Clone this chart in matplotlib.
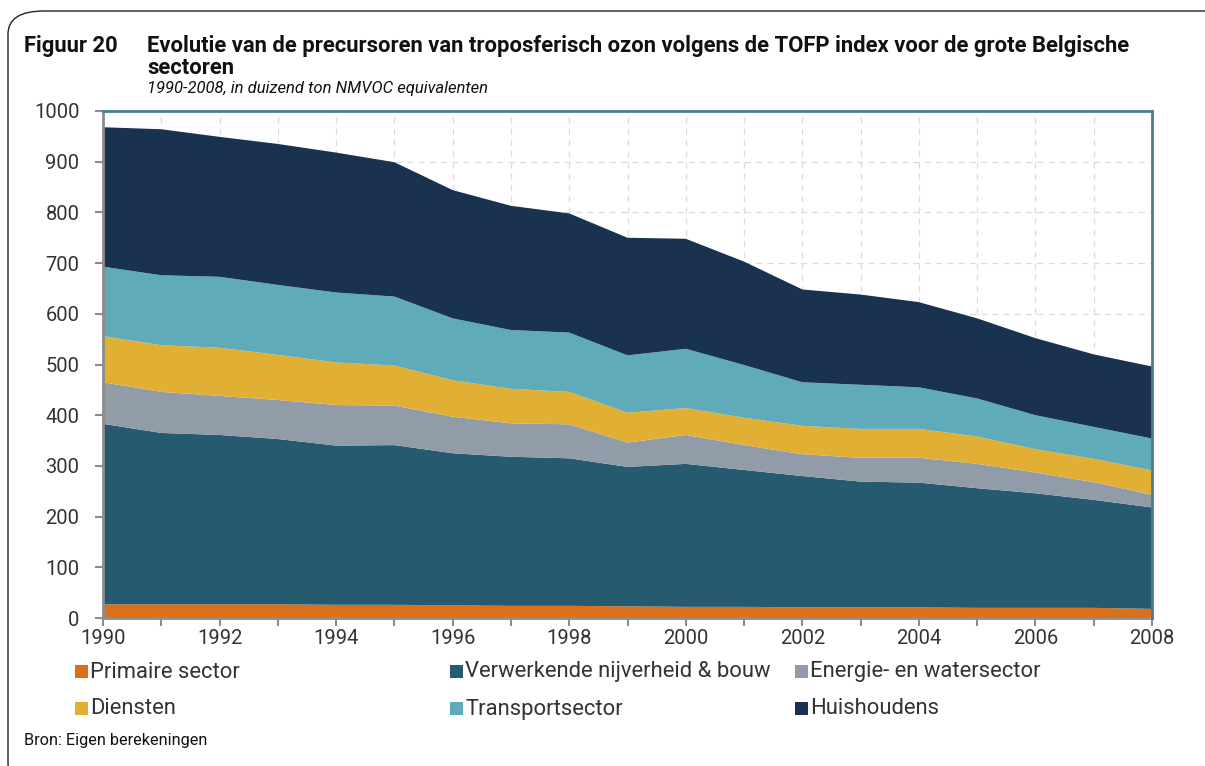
import numpy as np
import matplotlib
matplotlib.use("Agg")
import matplotlib.pyplot as plt
from matplotlib.patches import FancyBboxPatch, Rectangle

# TOFP per sector, 1990-2008 (kton NMVOC eq.)
years = list(range(1990, 2009))
primaire = [27, 27, 27, 27, 26, 26, 25, 24, 24, 23, 22, 22, 21, 21, 21, 20, 20, 20, 18]
verwerkende = [356, 338, 334, 326, 314, 315, 300, 294, 291, 275, 282, 270, 259, 248, 246, 236, 226, 213, 200]
energie = [82, 81, 77, 77, 80, 78, 72, 66, 67, 48, 57, 49, 43, 47, 49, 48, 41, 35, 25]
diensten = [91, 92, 95, 89, 84, 79, 72, 68, 64, 59, 53, 54, 56, 57, 57, 54, 46, 46, 48]
transport = [137, 138, 140, 138, 138, 136, 122, 116, 117, 113, 117, 104, 86, 87, 82, 75, 67, 63, 63]
huishoudens = [275, 288, 276, 278, 276, 265, 253, 245, 235, 232, 217, 204, 183, 178, 168, 158, 152, 143, 142]

labels = ["Primaire sector", "Verwerkende nijverheid & bouw", "Energie- en watersector",
          "Diensten", "Transportsector", "Huishoudens"]
colors = ["#d9711c", "#265a6e", "#929ca8", "#e1af33", "#5fabb9", "#19324f"]

plt.rcParams['font.family'] = ['Roboto', 'DejaVu Sans']

fig = plt.figure(figsize=(12.05, 7.66), dpi=100)
W, H = 1205, 766

# rounded frame, cut off on the right and bottom
frame = FancyBboxPatch((8 / W, -20 / H), 1.2, (766 - 11 + 20) / H,
                       boxstyle="round,pad=0,rounding_size=0.03",
                       transform=fig.transFigure, fill=False,
                       edgecolor="#222222", linewidth=1.0)
fig.patches.append(frame)

ax = fig.add_axes([103 / W, (766 - 618) / H, (1152 - 103) / W, (618 - 111) / H])
ax.stackplot(years, primaire, verwerkende, energie, diensten, transport, huishoudens,
             colors=colors, linewidth=0)

ax.set_xlim(1990, 2008)
ax.set_ylim(0, 1000)
ax.set_yticks(range(0, 1001, 100))
ax.set_xticks(range(1990, 2009, 2))
ax.set_xticks(range(1990, 2009, 1), minor=True)
ax.grid(True, which='both', color="#dcdcdc", linestyle=(0, (5, 4)), linewidth=0.9)
ax.set_axisbelow(True)

for s in ['left', 'bottom']:
    ax.spines[s].set_color("#8c8c8c")
    ax.spines[s].set_linewidth(2)
for s in ['top', 'right']:
    ax.spines[s].set_color("#4a7d93")
    ax.spines[s].set_linewidth(2)
    ax.spines[s].set_zorder(5)

ax.tick_params(axis='both', which='both', color="#8c8c8c", width=1.5, length=6,
               labelsize=14.5, labelcolor="#333333")
ax.tick_params(axis='x', which='major', pad=2)
ax.tick_params(axis='y', pad=11)

# titles
tkw = dict(fontsize=15.8, fontweight='bold', color="#111111")
fig.text(24 / W, 1 - 52 / H, "Figuur 20", **tkw)
fig.text(147 / W, 1 - 52 / H,
         "Evolutie van de precursoren van troposferisch ozon volgens de TOFP index voor de grote Belgische",
         **tkw)
fig.text(147 / W, 1 - 74 / H, "sectoren", **tkw)
fig.text(147 / W, 1 - 93 / H, "1990-2008, in duizend ton NMVOC equivalenten",
         fontsize=12, fontstyle='italic', color="#111111")

# legend, row by row, drawn by hand to keep the column gaps of the original
col_x = [75, 450, 795]
row_y = [672, 709]
for i, (lab, col) in enumerate(zip(labels, colors)):
    x0 = col_x[i % 3]
    y0 = row_y[i // 3]
    fig.patches.append(Rectangle((x0 / W, 1 - (y0 + 6) / H), 13 / W, 13 / H,
                                 transform=fig.transFigure, facecolor=col, edgecolor='none'))
    fig.text((x0 + 15) / W, 1 - y0 / H, lab, fontsize=15.8, color="#333333", va='center')

fig.text(24 / W, 1 - 740 / H, "Bron: Eigen berekeningen", fontsize=11.7,
         color="#111111", va='center')

fig.savefig("out.png", dpi=100)
